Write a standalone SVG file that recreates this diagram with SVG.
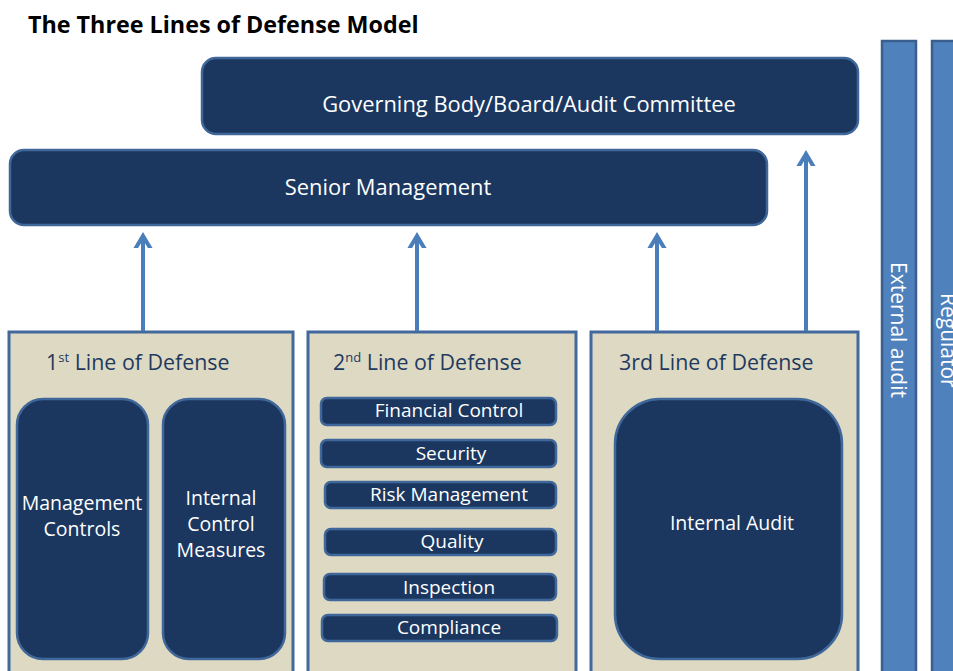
<svg xmlns="http://www.w3.org/2000/svg" width="953" height="671" viewBox="0 0 953 671">
  <defs>
    <style>
      .dark { fill: #1b3760; stroke: #40679a; stroke-width: 2.5; }
      .line { fill: #ddd9c3; stroke: #41699c; stroke-width: 3; }
      .side { fill: #4f81bd; stroke: #3a5f8e; stroke-width: 2.5; }
      .wt { fill: #ffffff; font-family: "Open Sans", "Liberation Sans", sans-serif; text-anchor: middle; }
      .hd { fill: #1f3a5f; font-family: "Open Sans", "Liberation Sans", sans-serif; font-size: 21.4px; }
      .conn { stroke: #4a7ebb; stroke-width: 4; fill: none; }
    </style>
    <marker id="head" markerUnits="userSpaceOnUse" markerWidth="24" markerHeight="24" viewBox="-12 -12 24 24" refX="0" refY="0" orient="auto">
      <path d="M-15,-9 L0,0 L-15,9" fill="none" stroke="#4a7ebb" stroke-width="4" stroke-linejoin="miter"/>
    </marker>
  </defs>

  <rect width="953" height="671" fill="#ffffff"/>

  <text x="28" y="33" font-family="Open Sans, Liberation Sans, sans-serif" font-weight="bold" font-size="23.3" fill="#000000">The Three Lines of Defense Model</text>

  <!-- oversight bars on the right -->
  <g id="external-audit">
    <rect class="side" x="882" y="41" width="34" height="645"/>
    <text x="262" y="-891" transform="rotate(90)" class="wt" style="text-anchor:start" font-size="21">External audit</text>
  </g>
  <g id="regulator">
    <rect class="side" x="932" y="41" width="40" height="645"/>
    <text x="293" y="-941" transform="rotate(90)" class="wt" style="text-anchor:start" font-size="21">Regulator</text>
  </g>

  <g id="governing-body">
    <rect class="dark" x="202" y="58" width="656" height="76" rx="14"/>
    <text x="529" y="112" class="wt" font-size="21.9">Governing Body/Board/Audit Committee</text>
  </g>

  <g id="senior-management">
    <rect class="dark" x="10" y="150" width="757" height="75" rx="14"/>
    <text x="388" y="195" class="wt" font-size="21.9">Senior Management</text>
  </g>

  <g id="first-line">
    <rect class="line" x="9" y="332" width="284" height="360"/>
    <text x="46" y="370" class="hd">1<tspan font-size="13" dy="-8">st</tspan><tspan dy="8"> Line of Defense</tspan></text>
    <g id="management-controls">
      <rect class="dark" x="17" y="399" width="131" height="260" rx="26"/>
      <text class="wt" font-size="19.5"><tspan x="82" y="510">Management</tspan><tspan x="82" y="536">Controls</tspan></text>
    </g>
    <g id="internal-control-measures">
      <rect class="dark" x="163" y="399" width="122" height="260" rx="26"/>
      <text class="wt" font-size="19.5"><tspan x="221" y="505">Internal</tspan><tspan x="221" y="531">Control</tspan><tspan x="221" y="557">Measures</tspan></text>
    </g>
  </g>

  <g id="second-line">
    <rect class="line" x="308" y="332" width="268" height="360"/>
    <text x="333" y="370" class="hd">2<tspan font-size="13" dy="-8">nd</tspan><tspan dy="8"> Line of Defense</tspan></text>
    <g id="financial-control">
      <rect class="dark" x="321" y="398" width="235" height="27" rx="6"/>
      <text x="449" y="417" class="wt" font-size="19">Financial Control</text>
    </g>
    <g id="security">
      <rect class="dark" x="321" y="440" width="235" height="27" rx="6"/>
      <text x="451" y="460" class="wt" font-size="19">Security</text>
    </g>
    <g id="risk-management">
      <rect class="dark" x="325" y="482" width="231" height="26" rx="6"/>
      <text x="449" y="501" class="wt" font-size="19">Risk Management</text>
    </g>
    <g id="quality">
      <rect class="dark" x="325" y="529" width="231" height="26" rx="6"/>
      <text x="452" y="548" class="wt" font-size="19">Quality</text>
    </g>
    <g id="inspection">
      <rect class="dark" x="324" y="574" width="232" height="26" rx="6"/>
      <text x="449" y="594" class="wt" font-size="19">Inspection</text>
    </g>
    <g id="compliance">
      <rect class="dark" x="322" y="615" width="235" height="26" rx="6"/>
      <text x="449" y="634" class="wt" font-size="19">Compliance</text>
    </g>
  </g>

  <g id="third-line">
    <rect class="line" x="591" y="332" width="267" height="360"/>
    <text x="619" y="370" class="hd">3rd Line of Defense</text>
    <g id="internal-audit">
      <rect class="dark" x="615" y="399" width="227" height="260" rx="45"/>
      <text x="732" y="530" class="wt" font-size="19.5">Internal Audit</text>
    </g>
  </g>

  <!-- reporting lines -->
  <g id="connectors">
    <line class="conn" x1="143" y1="331" x2="143" y2="236" marker-end="url(#head)"/>
    <line class="conn" x1="417" y1="331" x2="417" y2="236" marker-end="url(#head)"/>
    <line class="conn" x1="657" y1="331" x2="657" y2="236" marker-end="url(#head)"/>
    <line class="conn" x1="806" y1="331" x2="806" y2="154" marker-end="url(#head)"/>
  </g>
</svg>
